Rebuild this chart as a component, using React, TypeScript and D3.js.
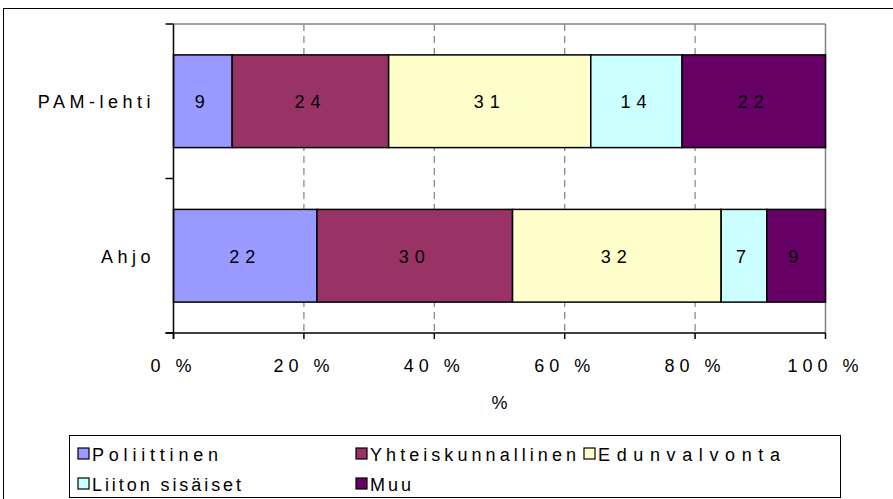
import * as d3 from "d3";
import { useEffect, useRef } from "react";

const categories = ["PAM-lehti", "Ahjo"];
const seriesNames = ["Poliittinen", "Yhteiskunnallinen", "Edunvalvonta", "Liiton sisäiset", "Muu"];
const pamValues = [9, 24, 31, 14, 22];
const ahjoValues = [22, 30, 32, 7, 9];
const colors = ["#9999FF", "#993366", "#FFFFCC", "#CCFFFF", "#660066"];
const xTicks = [0, 20, 40, 60, 80, 100];

// legend text widths as rendered in the original (it spaces glyphs unevenly)
const legendTextWidths = [126, 206, 182, 149, 41];

const FONT = "'Liberation Sans', Arial, sans-serif";

const App = () => {
  const ref = useRef<SVGSVGElement>(null);

  useEffect(() => {
    const svg = d3.select(ref.current);
    svg.selectAll("*").remove();

    const left = 173.5, right = 825.5, top = 24, bottom = 333;

    // outer frame
    svg.append("rect")
      .attr("x", 3.5).attr("y", 8.5)
      .attr("width", 900).attr("height", 500)
      .attr("fill", "white").attr("stroke", "black").attr("stroke-width", 1);

    const x = d3.scaleLinear().domain([0, 100]).range([left, right]);
    const y = d3.scaleBand().domain(categories).range([top, bottom]).paddingInner(0.4).paddingOuter(0.2);

    // table for d3.stack, normalised to 100 %
    const rows = categories.map((c, i) => {
      const vals = i === 0 ? pamValues : ahjoValues;
      const total = d3.sum(vals);
      const row: any = { cat: c, raw: vals };
      seriesNames.forEach((s, j) => (row[s] = (vals[j] / total) * 100));
      return row;
    });
    const stacked = d3.stack().keys(seriesNames)(rows);

    // plot border (top, right) in gray
    svg.append("line").attr("x1", left).attr("x2", right).attr("y1", top).attr("y2", top)
      .attr("stroke", "#808080").attr("stroke-width", 1.5);
    svg.append("line").attr("x1", right).attr("x2", right).attr("y1", top).attr("y2", bottom)
      .attr("stroke", "#808080").attr("stroke-width", 1.5);

    // gridlines
    svg.append("g")
      .selectAll("line")
      .data(xTicks.slice(1, -1))
      .join("line")
      .attr("x1", (d) => x(d)).attr("x2", (d) => x(d))
      .attr("y1", top).attr("y2", bottom)
      .attr("stroke", "#808080").attr("stroke-width", 1.2)
      .attr("stroke-dasharray", "7,5");

    // bars
    stacked.forEach((layer, j) => {
      svg.append("g")
        .selectAll("rect")
        .data(layer)
        .join("rect")
        .attr("x", (d) => x(d[0]))
        .attr("y", (d: any) => y(d.data.cat)!)
        .attr("width", (d) => x(d[1]) - x(d[0]))
        .attr("height", y.bandwidth())
        .attr("fill", colors[j])
        .attr("stroke", "black")
        .attr("stroke-width", 1.5);
    });

    // bar labels
    stacked.forEach((layer, j) => {
      svg.append("g")
        .selectAll("text")
        .data(layer)
        .join("text")
        .attr("x", (d) => (x(d[0]) + x(d[1])) / 2)
        .attr("y", (d: any) => y(d.data.cat)! + y.bandwidth() / 2)
        .attr("dy", "0.38em")
        .attr("text-anchor", "middle")
        .attr("font-family", FONT).attr("font-size", 18)
        .attr("letter-spacing", 6)
        .attr("fill", "black")
        .text((d: any) => d.data.raw[j]);
    });

    // y axis
    svg.append("line").attr("x1", left).attr("x2", left).attr("y1", top).attr("y2", bottom + 6)
      .attr("stroke", "black").attr("stroke-width", 1.5);
    const yTickPos = [top, (top + bottom) / 2, bottom];
    svg.append("g").selectAll("line").data(yTickPos).join("line")
      .attr("x1", left - 8).attr("x2", left).attr("y1", (d) => d).attr("y2", (d) => d)
      .attr("stroke", "black").attr("stroke-width", 1.5);
    svg.append("g").selectAll("text").data(categories).join("text")
      .attr("x", 155)
      .attr("y", (d) => y(d)! + y.bandwidth() / 2)
      .attr("dy", "0.4em")
      .attr("text-anchor", "end")
      .attr("font-family", FONT).attr("font-size", 18)
      .attr("letter-spacing", 4.5)
      .text((d) => d);

    // x axis
    svg.append("line").attr("x1", left - 8).attr("x2", right).attr("y1", bottom).attr("y2", bottom)
      .attr("stroke", "black").attr("stroke-width", 1.5);
    svg.append("g").selectAll("line").data(xTicks).join("line")
      .attr("x1", (d) => x(d)).attr("x2", (d) => x(d))
      .attr("y1", bottom).attr("y2", bottom + 6)
      .attr("stroke", "black").attr("stroke-width", 1.5);
    svg.append("g").selectAll("text").data(xTicks).join("text")
      .attr("x", (d) => x(d))
      .attr("y", 365)
      .attr("dy", "0.38em")
      .attr("text-anchor", "middle")
      .attr("font-family", FONT).attr("font-size", 18)
      .attr("letter-spacing", 5)
      .text((d) => `${d} %`);
    svg.append("text")
      .attr("x", (left + right) / 2).attr("y", 402).attr("dy", "0.38em")
      .attr("text-anchor", "middle")
      .attr("font-family", FONT).attr("font-size", 18)
      .text("%");

    // legend
    const lg = svg.append("g");
    lg.append("rect").attr("x", 69.5).attr("y", 435.5).attr("width", 771).attr("height", 62)
      .attr("fill", "white").attr("stroke", "black").attr("stroke-width", 1);
    const colX = [78, 356, 584];
    const rowY = [454, 484];
    const items = lg.selectAll("g.item").data(seriesNames).join("g")
      .attr("transform", (_, i) => `translate(${colX[i % 3]},${rowY[Math.floor(i / 3)]})`);
    items.append("rect").attr("x", 0).attr("y", -6).attr("width", 11).attr("height", 11)
      .attr("fill", (_, i) => colors[i]).attr("stroke", "black").attr("stroke-width", 1.2);
    items.append("text").attr("x", 14).attr("dy", "0.38em")
      .attr("font-family", FONT).attr("font-size", 18)
      .attr("textLength", (_, i) => legendTextWidths[i])
      .attr("lengthAdjust", "spacing")
      .text((d) => d);
  }, []);

  return (
    <svg
      ref={ref}
      width={893}
      height={499}
      style={{ position: "absolute", left: 0, top: 0 }}
    />
  );
};

export default App;
